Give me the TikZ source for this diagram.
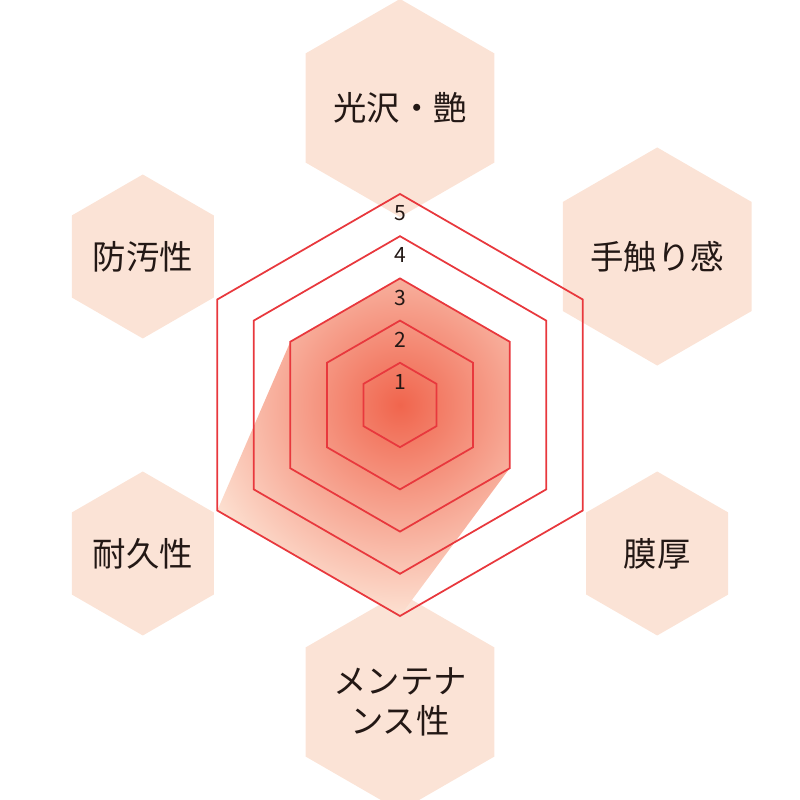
\documentclass[tikz,border=0pt]{standalone}
\usepackage{fontspec}
\setmainfont{Noto Sans CJK JP}
\usetikzlibrary{shapes.geometric}
\definecolor{gridred}{HTML}{E8383D}
\definecolor{hexpeach}{HTML}{FBE3D6}
\definecolor{textdark}{HTML}{231815}
\newcommand{\lvl}{0.422}

\begin{document}
\begin{tikzpicture}[
        axislabel/.style={regular polygon, regular polygon sides=6, shape border rotate=30,
            minimum size=1.64cm, fill=hexpeach, inner sep=0pt, align=center,
            text=textdark, font=\fontsize{9.5}{11.5}\selectfont},
        gridline/.style={gridred, line width=0.5pt},
        tick/.style={anchor=north, text=textdark, inner sep=0pt, font=\fontsize{6}{7}\selectfont},
    ]
    \useasboundingbox (-4,-3.95) rectangle (4,4.05);
    % outer label hexagons
    \node[axislabel] (gloss) at (90:2.97) {光沢・艶};
    \node[axislabel] (touch) at (30:2.97) {手触り感};
    \node[axislabel] (film) at (-30:2.97) {膜厚};
    \node[axislabel] (maint) at (-90:2.97) {メンテナ\\ンス性};
    \node[axislabel] (dura) at (-150:2.97) {耐久性};
    \node[axislabel] (stain) at (150:2.97) {防汚性};
    % data polygon
    \begin{scope}
        \clip (90:3*\lvl) -- (30:3*\lvl) -- (-30:3*\lvl) -- (-90:5*\lvl)
            -- (-150:5*\lvl) -- (150:3*\lvl) -- cycle;
        \shade[inner color=gridred!75!orange!85, outer color=hexpeach!80!orange!40] (0,0) circle (2.3);
    \end{scope}
    % grid hexagons and scale
    \foreach \k in {1,...,5} {
        \draw[gridline] (90:\k*\lvl) -- (30:\k*\lvl) -- (-30:\k*\lvl) -- (-90:\k*\lvl)
            -- (-150:\k*\lvl) -- (150:\k*\lvl) -- cycle;
        \node[tick] (tick\k) at ([yshift=-0.11cm]90:\k*\lvl) {\k};
    }
\end{tikzpicture}
\end{document}
